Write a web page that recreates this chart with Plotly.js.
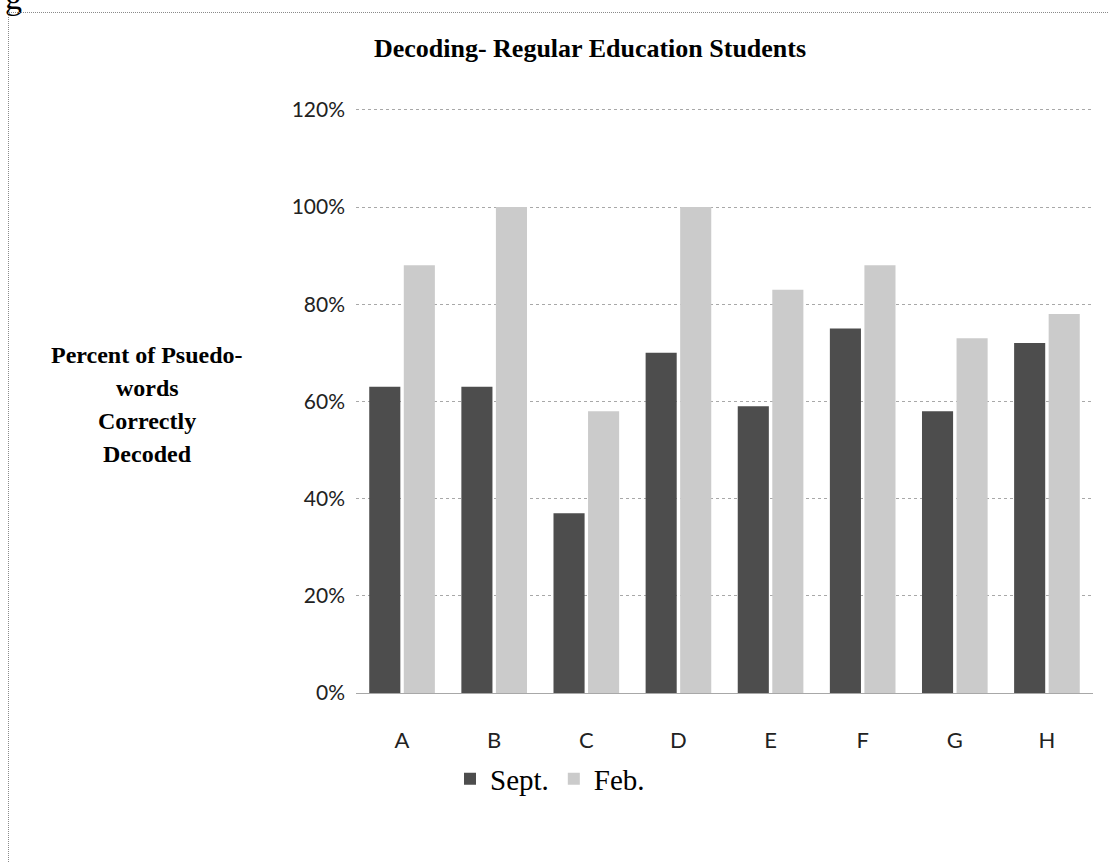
<!DOCTYPE html>
<html>
<head>
<meta charset="utf-8">
<script src="https://cdn.plot.ly/plotly-3.0.1.min.js"></script>
<style>
html,body{margin:0;padding:0;background:#fff;overflow:hidden;}
#chart{position:absolute;left:0;top:0;width:1109px;height:862px;}
#frame{position:absolute;left:8px;top:12px;width:1120px;height:880px;border:1px dotted #8a8a8a;pointer-events:none;}
</style>
</head>
<body>
<div id="chart"></div>
<div id="frame"></div>
<script>
const categories = ["A","B","C","D","E","F","G","H"];
const septValues = [0.63, 0.63, 0.37, 0.70, 0.59, 0.75, 0.58, 0.72];
const febValues  = [0.88, 1.00, 0.58, 1.00, 0.83, 0.88, 0.73, 0.78];
const seriesNames = ["Sept.", "Feb."];
const yTitleLines = ["Percent of Psuedo-", "words", "Correctly", "Decoded"];
const chartTitle = "Decoding- Regular Education Students";

const W = 1109, H = 862;
const mL = 356, mR = 16, mT = 105, mB = 169;
const PW = W - mL - mR, PH = H - mT - mB;
const px = v => (v - mL) / PW;          // pixel x -> paper x
const py = v => (H - mB - v) / PH;      // pixel y -> paper y

const traces = [
  {type:"bar", name:seriesNames[0], x:categories, y:septValues,
   marker:{color:"#4d4d4d"}, hoverinfo:"skip"},
  {type:"bar", name:seriesNames[1], x:categories, y:febValues,
   marker:{color:"#cbcbcb"}, hoverinfo:"skip"}
];

const ann = yTitleLines.map((t,i)=>({
  text:"<b>"+t+"</b>", xref:"paper", yref:"paper",
  x:px(147), y:py(355+i*33), xanchor:"center", yanchor:"middle",
  showarrow:false, font:{family:"Liberation Serif", size:24, color:"#000"}
}));
ann.push({text:"g", xref:"paper", yref:"paper", x:px(3), y:py(-3),
  xanchor:"left", yanchor:"middle", showarrow:false,
  font:{family:"Liberation Serif", size:34, color:"#000"}});

const layout = {
  width:W, height:H,
  margin:{l:mL, r:mR, t:mT, b:mB, pad:0},
  paper_bgcolor:"#fff", plot_bgcolor:"#fff",
  title:{text:"<b>"+chartTitle+"</b>", xref:"container", yref:"container",
    x:590/W, y:1-48/H, xanchor:"center", yanchor:"middle",
    font:{family:"Liberation Serif", size:26, color:"#000"}},
  barmode:"group", bargap:0.25, bargroupgap:0.1,
  xaxis:{type:"category", showgrid:false, showline:false, zeroline:false,
    ticks:"", ticklabelstandoff:32,
    tickfont:{family:"Lato", size:22, color:"#222"}},
  yaxis:{range:[0,1.21], tickvals:[0,0.2,0.4,0.6,0.8,1.0,1.2], tickformat:".0%",
    showgrid:true, gridcolor:"#a8a8a8", griddash:"dot", gridwidth:1,
    zeroline:true, zerolinecolor:"#a8a8a8", zerolinewidth:1,
    showline:false, ticks:"", ticklabelstandoff:10,
    tickfont:{family:"Lato", size:21, color:"#222"}},
  showlegend:true,
  legend:{orientation:"h", xref:"container", yref:"container",
    x:450/W, y:1-779/H, xanchor:"left", yanchor:"middle",
    font:{family:"Liberation Serif", size:29, color:"#000"},
    itemwidth:30, tracegroupgap:0, bgcolor:"rgba(0,0,0,0)"},
  annotations:ann
};

Plotly.newPlot("chart", traces, layout, {staticPlot:true, displayModeBar:false});
</script>
</body>
</html>
